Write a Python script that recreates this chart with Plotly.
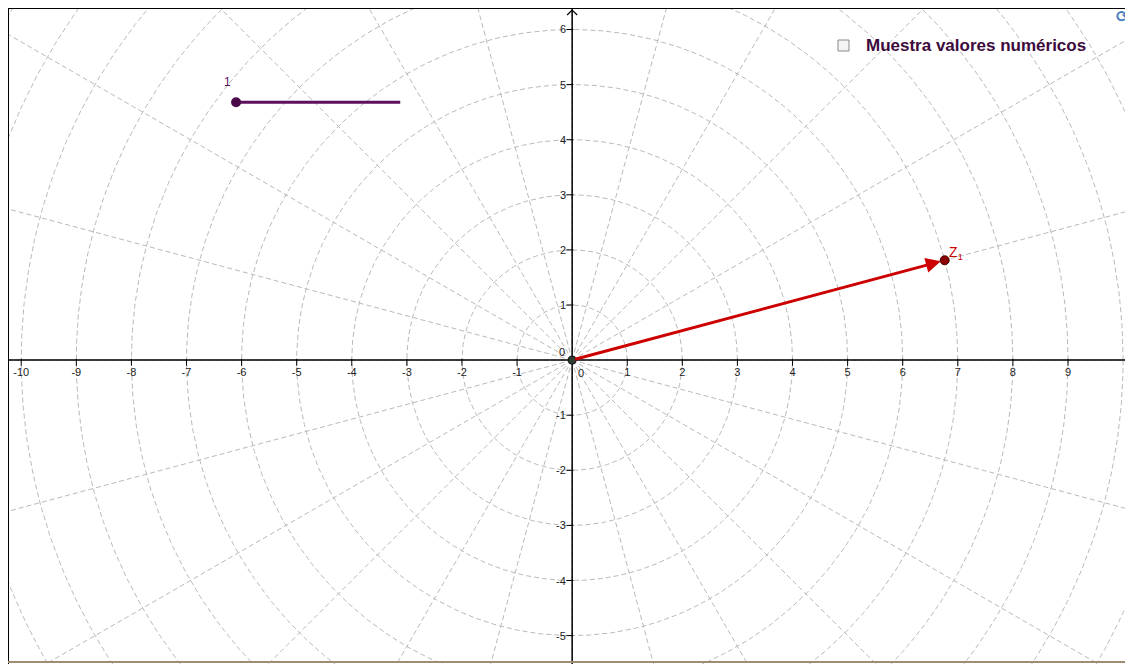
import numpy as np
import plotly.graph_objects as go

# ---- data ----
x_tick_values = list(range(-10, 10))
y_tick_values = list(range(-5, 7))
grid_radii = list(range(1, 14))
grid_angles_deg = list(range(0, 360, 15))
z1_modulus = 7.0
z1_argument_deg = 15.0
slider_start = (-6.1, 4.68)
slider_end = (-3.12, 4.68)
slider_value_label = "1"
checkbox_label = "Muestra valores numéricos"
x_range = [-10.24, 10.18]
y_range = [-5.515, 6.39]

GRID = "#bababa"
PURPLE = "#5e0f5e"
RED = "#cc0000"
FONT = "Liberation Sans, Arial, sans-serif"

W, H = 1125, 656   # body has an 8px margin in the page
UNIT = 55.1        # pixels per unit


def px(x):
    return (x - 8) / W


def py(y):
    return 1 - (y - 8) / H


fig = go.Figure()

# polar grid circles
t = np.linspace(0, 2 * np.pi, 721)
for r in grid_radii:
    fig.add_trace(go.Scatter(x=r * np.cos(t), y=r * np.sin(t), mode="lines",
                             line=dict(color=GRID, width=1, dash="5px,3px"),
                             hoverinfo="skip", showlegend=False))
# polar grid rays
for a in grid_angles_deg:
    ar = np.deg2rad(a)
    fig.add_trace(go.Scatter(x=[0, 14 * np.cos(ar)], y=[0, 14 * np.sin(ar)], mode="lines",
                             line=dict(color=GRID, width=1, dash="5px,3px"),
                             hoverinfo="skip", showlegend=False))

# axes lines
fig.add_trace(go.Scatter(x=[x_range[0], x_range[1]], y=[0, 0], mode="lines",
                         line=dict(color="black", width=1.5), hoverinfo="skip", showlegend=False))
fig.add_trace(go.Scatter(x=[0, 0], y=[y_range[0], y_range[1]], mode="lines",
                         line=dict(color="black", width=1.5), hoverinfo="skip", showlegend=False))
# axis arrow chevrons
d = 5 / UNIT
ytop = y_range[1] - 2 / UNIT
fig.add_trace(go.Scatter(x=[-d, 0, d], y=[ytop - d, ytop, ytop - d], mode="lines",
                         line=dict(color="black", width=1.2), hoverinfo="skip", showlegend=False))
xr = x_range[1] - 2 / UNIT
fig.add_trace(go.Scatter(x=[xr - d, xr, xr - d], y=[d, 0, -d], mode="lines",
                         line=dict(color="black", width=1.2), hoverinfo="skip", showlegend=False))

# tick marks
xt = [v for v in x_tick_values if v != 0]
yt = [v for v in y_tick_values if v != 0]
fig.add_trace(go.Scatter(x=xt, y=[-0.04] * len(xt), mode="markers",
                         marker=dict(symbol="line-ns-open", size=5, color="black",
                                     line=dict(color="black", width=1)),
                         hoverinfo="skip", showlegend=False))
fig.add_trace(go.Scatter(x=[-0.04] * len(yt), y=yt, mode="markers",
                         marker=dict(symbol="line-ew-open", size=5, color="black",
                                     line=dict(color="black", width=1)),
                         hoverinfo="skip", showlegend=False))

# tick labels
fig.add_trace(go.Scatter(x=xt, y=[-0.24] * len(xt), mode="text",
                         text=[str(v) for v in xt], textposition="middle center",
                         textfont=dict(family=FONT, size=11, color="#222222"),
                         hoverinfo="skip", showlegend=False))
for v in yt:
    fig.add_annotation(x=0, y=v, xref="x", yref="y", text=str(v), showarrow=False,
                       xanchor="right", yanchor="middle", xshift=-4,
                       font=dict(family=FONT, size=11, color="#222222"))
fig.add_annotation(x=0, y=0, xref="x", yref="y", text="0", showarrow=False,
                   xanchor="left", yanchor="top", xshift=4, yshift=-5,
                   font=dict(family=FONT, size=11, color="#222222"))
fig.add_annotation(x=0, y=0, xref="x", yref="y", text="0", showarrow=False,
                   xanchor="right", yanchor="bottom", xshift=-5, yshift=0,
                   font=dict(family=FONT, size=11, color="#222222"))

# vector Z1
zx = z1_modulus * np.cos(np.deg2rad(z1_argument_deg))
zy = z1_modulus * np.sin(np.deg2rad(z1_argument_deg))
fig.add_annotation(x=zx, y=zy, ax=0, ay=0, xref="x", yref="y", axref="x", ayref="y",
                   showarrow=True, arrowhead=2, arrowsize=1.0, arrowwidth=3,
                   arrowcolor=RED, standoff=4, text=" ")
fig.add_trace(go.Scatter(x=[zx], y=[zy], mode="markers",
                         marker=dict(size=9, color="#8b0000", line=dict(color="#400000", width=1)),
                         hoverinfo="skip", showlegend=False))
fig.add_annotation(x=zx, y=zy, xref="x", yref="y", text="Z<sub>1</sub>", showarrow=False,
                   xanchor="left", yanchor="bottom", xshift=2, yshift=-4,
                   font=dict(family=FONT, size=14, color=RED))

# origin point
fig.add_trace(go.Scatter(x=[0], y=[0], mode="markers",
                         marker=dict(size=8, color="#2f3f2f", line=dict(color="#111111", width=1)),
                         hoverinfo="skip", showlegend=False))

# slider
fig.add_trace(go.Scatter(x=[slider_start[0], slider_end[0]], y=[slider_start[1], slider_end[1]],
                         mode="lines", line=dict(color=PURPLE, width=3),
                         hoverinfo="skip", showlegend=False))
fig.add_trace(go.Scatter(x=[slider_start[0]], y=[slider_start[1]], mode="markers",
                         marker=dict(size=10, color="#4a0a4a"),
                         hoverinfo="skip", showlegend=False))
fig.add_annotation(x=slider_start[0], y=slider_start[1], xref="x", yref="y",
                   text=slider_value_label, showarrow=False, xshift=-9, yshift=20,
                   font=dict(family=FONT, size=12, color=PURPLE))

# checkbox
fig.add_shape(type="rect", xref="paper", yref="paper",
              x0=px(838), x1=px(849), y0=py(51), y1=py(40),
              line=dict(color="#8a8a8a", width=1), fillcolor="#f4f4f4")
fig.add_annotation(xref="paper", yref="paper", x=px(864), y=py(45),
                   xanchor="left", yanchor="middle", showarrow=False,
                   text="<b>" + checkbox_label + "</b>",
                   font=dict(family=FONT, size=17, color="#3d0a3d"))
fig.add_annotation(xref="paper", yref="paper", x=px(1123), y=py(17),
                   xanchor="center", yanchor="middle", showarrow=False,
                   text="<b>⟳</b>", font=dict(family="DejaVu Sans", size=16, color="#4a7fc0"))

# frame lines
fig.add_shape(type="line", xref="paper", yref="paper", x0=0, x1=1, y0=1, y1=1,
              line=dict(color="black", width=2))
fig.add_shape(type="line", xref="paper", yref="paper", x0=0, x1=0, y0=0, y1=1,
              line=dict(color="black", width=2))
fig.add_shape(type="line", xref="paper", yref="paper", x0=0, x1=1, y0=0.003, y1=0.003,
              line=dict(color="#a08c70", width=2))

fig.update_xaxes(range=x_range, showgrid=False, zeroline=False, showticklabels=False,
                 ticks="", showline=False, fixedrange=True)
fig.update_yaxes(range=y_range, showgrid=False, zeroline=False, showticklabels=False,
                 ticks="", showline=False, fixedrange=True)
fig.update_layout(width=W, height=H, margin=dict(l=0, r=0, t=0, b=0),
                  paper_bgcolor="white", plot_bgcolor="white", showlegend=False)

fig.write_html("out.html", config={"displayModeBar": False})
